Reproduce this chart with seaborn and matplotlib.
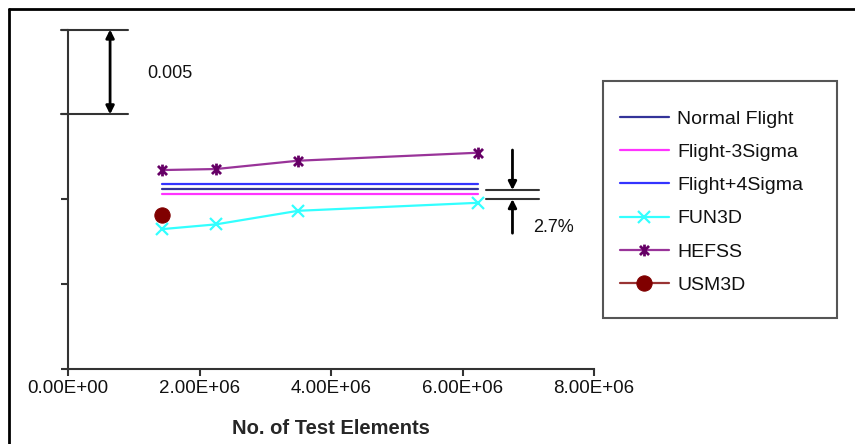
import pandas as pd
import seaborn as sns
import matplotlib.pyplot as plt
from matplotlib.path import Path
from matplotlib.lines import Line2D
from matplotlib.patches import Rectangle

# Data
elements = [1.43e6, 2.25e6, 3.50e6, 6.23e6]
fun3d = [0.00824, 0.00852, 0.00932, 0.00979]
hefss = [0.01172, 0.01178, 0.01227, 0.01274]
usm3d_x = [1.43e6]
usm3d = [0.00907]
flight_x = [1.43e6, 6.23e6]
normal_flight = [0.01060, 0.01060]
flight_minus3 = [0.01031, 0.01031]
flight_plus4 = [0.01090, 0.01090]
xtick_vals = [0, 2e6, 4e6, 6e6, 8e6]
xtick_labels = ['0.00E+00', '2.00E+06', '4.00E+06', '6.00E+06', '8.00E+06']
ytick_vals = [0, 0.005, 0.01, 0.015, 0.02]

sns.set_theme(style='ticks')
plt.rcParams['font.family'] = ['Liberation Sans', 'DejaVu Sans']
plt.rcParams['text.color'] = '#111111'

# Excel style star: an x with a vertical bar
star = Path([(-1, -1), (1, 1), (-1, 1), (1, -1), (0, -1.3), (0, 1.3)],
            [Path.MOVETO, Path.LINETO] * 3)

W, H = 855, 444
fig = plt.figure(figsize=(W / 100, H / 100), dpi=100)
ax = fig.add_axes([68 / W, 1 - 369 / H, (594 - 68) / W, (369 - 29.5) / H])

flight = pd.DataFrame({'x': flight_x, 'normal': normal_flight,
                       'minus3': flight_minus3, 'plus4': flight_plus4})
sns.lineplot(data=flight, x='x', y='normal', ax=ax, color='#333399', lw=1.6, label='Normal Flight')
sns.lineplot(data=flight, x='x', y='minus3', ax=ax, color='#ff33ff', lw=1.6, label='Flight-3Sigma')
sns.lineplot(data=flight, x='x', y='plus4', ax=ax, color='#3333ff', lw=1.6, label='Flight+4Sigma')

sns.lineplot(x=elements, y=fun3d, ax=ax, color='#33ffff', lw=1.6, marker='x',
             markersize=8, markeredgewidth=1.6, markeredgecolor='#33ffff', label='FUN3D')
sns.lineplot(x=elements, y=hefss, ax=ax, color='#993399', lw=1.6, marker=star,
             markersize=8.5, markeredgewidth=2, markeredgecolor='#660066', label='HEFSS')
sns.lineplot(x=usm3d_x, y=usm3d, ax=ax, color='#993333', lw=1.6, marker='o',
             markersize=11, markerfacecolor='#800000', markeredgecolor='#800000', label='USM3D')

ax.set_xlim(0, 8e6)
ax.set_ylim(0, 0.02)
ax.set_xticks(xtick_vals)
ax.set_xticklabels(xtick_labels, fontsize=13.5, color='#111111')
ax.set_yticks(ytick_vals)
ax.set_yticklabels([])
ax.set_xlabel('No. of Test Elements', fontsize=14.5, fontweight='bold', labelpad=16)
ax.set_ylabel('')
ax.tick_params(direction='out', length=5, width=1.5, color='#333333', pad=3)
for side in ['top', 'right']:
    ax.spines[side].set_visible(False)
for side in ['left', 'bottom']:
    ax.spines[side].set_color('#333333')
    ax.spines[side].set_linewidth(1.5)

arrow = dict(color='black', lw=2, mutation_scale=12, shrinkA=0, shrinkB=0)

# 0.005 scale bar
ax.plot([-0.11e6, 0.91e6], [0.02, 0.02], color='#333333', lw=1.5, clip_on=False)
ax.plot([-0.11e6, 0.91e6], [0.015, 0.015], color='#333333', lw=1.5, clip_on=False)
ax.annotate('', xy=(0.64e6, 0.0200), xytext=(0.64e6, 0.0150), annotation_clip=False,
            arrowprops=dict(arrowstyle='<|-|>', **arrow))
ax.text(1.2e6, 0.0174, '0.005', fontsize=13, va='center', ha='left')

# 2.7% band
ax.plot([6.36e6, 7.16e6], [0.01054, 0.01054], color='#333333', lw=1.5, clip_on=False)
ax.plot([6.36e6, 7.16e6], [0.01001, 0.01001], color='#333333', lw=1.5, clip_on=False)
ax.annotate('', xy=(6.76e6, 0.01054), xytext=(6.76e6, 0.0129), annotation_clip=False,
            arrowprops=dict(arrowstyle='-|>', **arrow))
ax.annotate('', xy=(6.76e6, 0.01001), xytext=(6.76e6, 0.0080), annotation_clip=False,
            arrowprops=dict(arrowstyle='-|>', **arrow))
ax.text(7.07e6, 0.00836, '2.7%', fontsize=13, va='center', ha='left')

# Legend with a separate frame
fig.add_artist(Rectangle((603 / W, 1 - 318 / H), (837 - 603) / W, (318 - 81) / H,
                         transform=fig.transFigure, fill=False, edgecolor='#555555', lw=1.5))
ax.legend(loc='center left', bbox_to_anchor=(620 / W, 1 - 202 / H),
          bbox_transform=fig.transFigure, frameon=False, fontsize=14,
          handlelength=2.5, handletextpad=0.45, labelspacing=0.8,
          borderpad=0, borderaxespad=0)

# Outer border (top and left only, image is cropped)
fig.add_artist(Line2D([9 / W, 1], [1 - 9 / H, 1 - 9 / H], transform=fig.transFigure,
                      color='black', lw=2))
fig.add_artist(Line2D([9 / W, 9 / W], [0, 1 - 9 / H], transform=fig.transFigure,
                      color='black', lw=2))

fig.savefig('out.png', dpi=100)
